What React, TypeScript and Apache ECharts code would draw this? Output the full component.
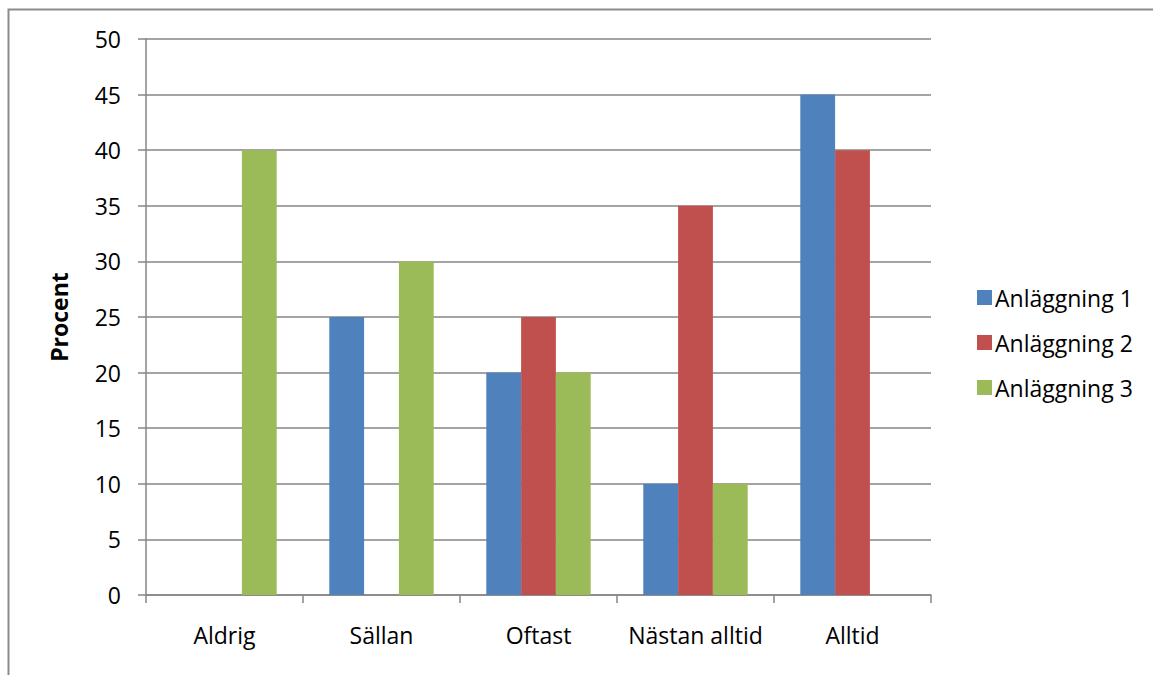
import React, { useEffect, useRef } from "react";
import * as echarts from "echarts";

const categories = ["Aldrig", "Sällan", "Oftast", "Nästan alltid", "Alltid"];
const anl1 = [0, 25, 20, 10, 45];
const anl2 = [0, 0, 25, 35, 40];
const anl3 = [40, 30, 20, 10, 0];
const seriesNames = ["Anläggning 1", "Anläggning 2", "Anläggning 3"];
const colors = ["#4F81BD", "#C0504D", "#9BBB59"];

const FONT = "'Open Sans', 'Noto Sans', sans-serif";
const FS = 23;

export default function App() {
  const ref = useRef<HTMLDivElement>(null);
  useEffect(() => {
    const chart = echarts.init(ref.current!, undefined, { renderer: "svg" });
    const data = [anl1, anl2, anl3];
    chart.setOption({
      animation: false,
      textStyle: { fontFamily: FONT },
      graphic: [
        {
          type: "rect",
          shape: { x: 8.5, y: 9.5, width: 1160, height: 680 },
          style: { fill: "none", stroke: "#8c8c8c", lineWidth: 2 },
          silent: true,
        },
      ],
      grid: { left: 146, top: 39, width: 785, height: 556, containLabel: false },
      legend: {
        orient: "vertical",
        left: 972,
        top: 281,
        itemWidth: 15,
        itemHeight: 15,
        itemGap: 22,
        icon: "rect",
        textStyle: { fontSize: FS, color: "#000", fontFamily: FONT, padding: [0, 0, 0, -2] },
        data: seriesNames,
      },
      xAxis: {
        type: "category",
        data: categories,
        axisLine: { show: true, lineStyle: { color: "#868686", width: 1.5 } },
        axisTick: { show: true, interval: 0, alignWithLabel: false, length: 8, lineStyle: { color: "#868686", width: 1.5 } },
        axisLabel: { interval: 0, fontSize: FS, color: "#000", margin: 28, fontFamily: FONT },
        splitLine: { show: false },
      },
      yAxis: {
        type: "value",
        min: 0,
        max: 50,
        interval: 5,
        name: "Procent",
        nameLocation: "middle",
        nameGap: 76,
        nameRotate: 90,
        nameTextStyle: { fontSize: FS, fontWeight: "bold", color: "#000", fontFamily: FONT },
        axisLine: { show: true, lineStyle: { color: "#868686", width: 1.5 } },
        axisTick: { show: true, length: 8, lineStyle: { color: "#868686", width: 1.5 } },
        axisLabel: { fontSize: FS, color: "#000", margin: 25, fontFamily: FONT },
        splitLine: { show: true, lineStyle: { color: "#868686", width: 1.5 } },
      },
      series: seriesNames.map((name, i) => ({
        name,
        type: "bar",
        data: data[i],
        itemStyle: { color: colors[i] },
        barGap: "0%",
        barCategoryGap: "33.5%",
      })),
    });
    return () => chart.dispose();
  }, []);
  return (
    <div
      ref={ref}
      style={{ position: "absolute", left: 0, top: 0, width: 1153, height: 675, background: "#fff" }}
    />
  );
}
